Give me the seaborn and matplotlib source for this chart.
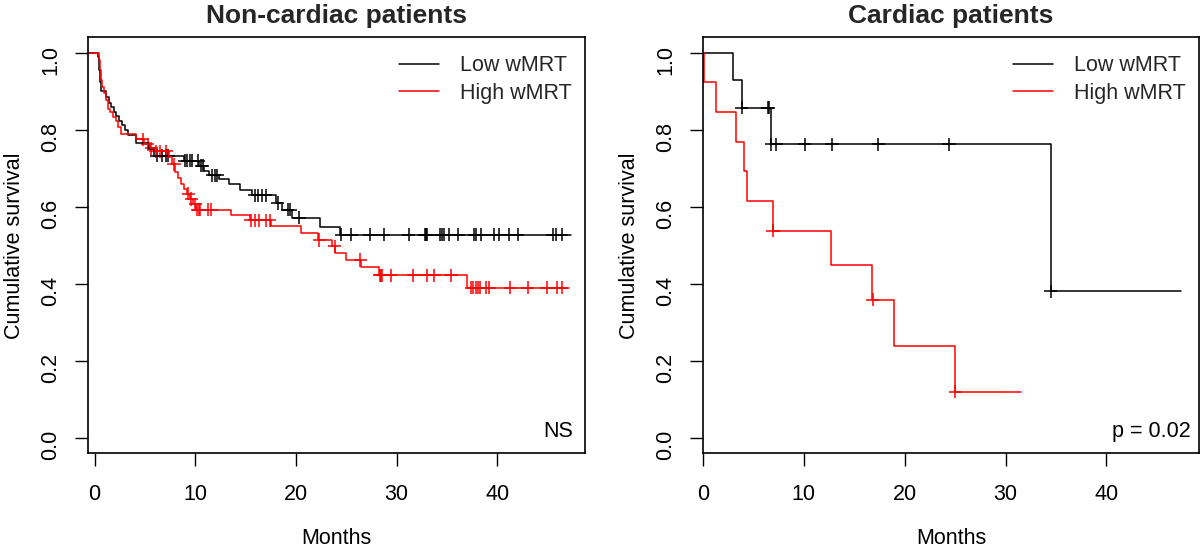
import numpy as np
import pandas as pd
import seaborn as sns
import matplotlib.pyplot as plt
from matplotlib.lines import Line2D

sns.set_style("white")
plt.rcParams["font.family"] = ["Liberation Sans", "DejaVu Sans"]

groups = ["Low wMRT", "High wMRT"]
colors = {"Low wMRT": "black", "High wMRT": "red"}

# Non-cardiac patients: step times (months) and survival after each step
nc_low_t = [-0.65, 0.30, 0.45, 0.55, 0.65, 1.15, 1.40, 1.65, 1.90, 2.15, 2.40, 2.70,
            3.00, 3.30, 4.10, 5.40, 5.90, 8.90, 10.40, 10.90, 11.40, 12.40, 13.40,
            14.40, 15.60, 18.00, 18.60, 19.60, 22.40, 24.40]
nc_low_s = [1.0, 0.990, 0.955, 0.925, 0.900, 0.885, 0.870, 0.858, 0.847, 0.835, 0.823, 0.812,
            0.800, 0.787, 0.766, 0.750, 0.733, 0.720, 0.707, 0.694, 0.682, 0.672, 0.660,
            0.644, 0.630, 0.610, 0.592, 0.572, 0.548, 0.527]
nc_low_end = 47.3
nc_low_cens = [6.2, 6.7, 7.1, 7.3, 8.95, 9.2, 9.45, 9.7, 10.3, 10.6, 10.75, 11.7, 11.95,
               12.2, 15.9, 16.2, 16.6, 17.0, 18.2, 19.2, 19.45, 20.3, 24.5, 25.5, 27.35,
               28.7, 31.2, 32.8, 32.9, 33.0, 34.3, 34.5, 34.7, 35.2, 36.1, 37.7, 37.9,
               38.4, 39.7, 40.2, 41.2, 42.0, 45.5, 45.8, 46.4]

nc_high_t = [-0.65, 0.40, 0.50, 0.60, 0.75, 0.95, 1.15, 1.35, 1.55, 1.85, 2.15, 2.35, 2.65,
             4.10, 4.95, 5.50, 6.00, 7.40, 7.70, 8.00, 8.30, 8.60, 8.90, 9.20, 9.50, 9.80,
             10.05, 13.60, 15.40, 17.50, 20.50, 22.20, 23.60, 23.90, 25.00, 26.50, 28.20,
             37.00]
nc_high_s = [1.0, 0.980, 0.955, 0.930, 0.910, 0.895, 0.878, 0.855, 0.845, 0.832, 0.822, 0.806,
             0.790, 0.775, 0.762, 0.752, 0.744, 0.728, 0.710, 0.690, 0.675, 0.660, 0.645,
             0.634, 0.620, 0.606, 0.592, 0.579, 0.565, 0.550, 0.532, 0.514, 0.497, 0.480,
             0.462, 0.443, 0.422, 0.390]
nc_high_end = 47.1
nc_high_cens = [4.8, 5.3, 5.65, 6.1, 6.5, 7.1, 7.9, 9.3, 9.6, 10.0, 10.2, 10.35, 10.5,
                11.3, 11.6, 15.5, 15.9, 16.3, 17.0, 17.4, 22.3, 23.85, 26.4, 28.35, 28.45,
                28.55, 29.4, 31.65, 33.0, 33.7, 35.4, 37.4, 37.55, 37.9, 38.1, 38.25, 38.9,
                39.2, 41.3, 43.0, 44.9, 45.9, 46.4]

# Cardiac patients
c_low_t = [0.0, 2.97, 3.86, 6.73, 34.5]
c_low_s = [1.0, 0.929, 0.857, 0.762, 0.381]
c_low_end = 47.4
c_low_cens = [3.86, 6.4, 6.5, 6.77, 7.27, 10.1, 12.8, 17.4, 24.4, 34.5]

c_high_t = [0.0, 0.1, 1.32, 3.3, 4.03, 4.36, 6.93, 12.7, 16.8, 18.9, 24.96]
c_high_s = [1.0, 0.923, 0.846, 0.769, 0.692, 0.615, 0.538, 0.449, 0.359, 0.239, 0.120]
c_high_end = 31.5
c_high_cens = [6.95, 16.85, 25.0]


def km_frame(t, s, end, group):
    return pd.DataFrame({"time": list(t) + [end], "surv": list(s) + [s[-1]], "group": group})


def cens_frame(t, s, cens, group):
    idx = np.searchsorted(t, cens, side="right") - 1
    return pd.DataFrame({"time": cens, "surv": np.asarray(s)[idx], "group": group})


panels = [
    ("Non-cardiac patients", "NS", (-0.65, 48.7), 0.977,
     [(nc_low_t, nc_low_s, nc_low_end, nc_low_cens), (nc_high_t, nc_high_s, nc_high_end, nc_high_cens)]),
    ("Cardiac patients", "p = 0.02", (0, 49.2), 0.983,
     [(c_low_t, c_low_s, c_low_end, c_low_cens), (c_high_t, c_high_s, c_high_end, c_high_cens)]),
]

fig = plt.figure(figsize=(12, 5.52), dpi=100)
rects = [[0.0733, 0.1788, 0.4142, 0.7536], [0.5858, 0.1788, 0.4135, 0.7536]]

for rect, (title, note, xlim, note_x, series) in zip(rects, panels):
    ax = fig.add_axes(rect)
    curves = pd.concat([km_frame(t, s, e, g) for g, (t, s, e, c) in zip(groups, series)])
    marks = pd.concat([cens_frame(t, s, c, g) for g, (t, s, e, c) in zip(groups, series)])
    sns.lineplot(data=curves, x="time", y="surv", hue="group", hue_order=groups,
                 palette=colors, drawstyle="steps-post", estimator=None, sort=False,
                 legend=False, linewidth=1.1, ax=ax)
    sns.scatterplot(data=marks, x="time", y="surv", hue="group", hue_order=groups,
                    palette=colors, marker="+", s=90, linewidth=1.1, legend=False, ax=ax)
    ax.set_xlim(*xlim)
    ax.set_ylim(-0.04, 1.04)
    ax.set_xticks([0, 10, 20, 30, 40])
    ax.set_yticks([0.0, 0.2, 0.4, 0.6, 0.8, 1.0])
    ax.set_yticklabels(["0.0", "0.2", "0.4", "0.6", "0.8", "1.0"])
    ax.tick_params(axis="both", direction="out", length=9.5, width=1.0, color="black",
                   labelsize=15.5, labelcolor="black", left=True, bottom=True)
    ax.tick_params(axis="y", labelrotation=90, pad=10)
    ax.tick_params(axis="x", pad=12.5)
    for sp in ax.spines.values():
        sp.set_color("black")
        sp.set_linewidth(1.2)
    ax.set_xlabel("Months", fontsize=15.5, color="black")
    ax.set_ylabel("Cumulative survival", fontsize=15.5, color="black")
    ax.xaxis.set_label_coords(0.5, -0.18)
    ax.yaxis.set_label_coords(-0.126, 0.5)
    ax.set_title(title, fontsize=19, fontweight="bold", pad=10)
    handles = [Line2D([], [], color=colors[g], linewidth=1.1) for g in groups]
    ax.legend(handles, groups, loc="upper left", bbox_to_anchor=(0.625, 0.957),
              frameon=False, fontsize=15.5, handlelength=1.86, handletextpad=0.98,
              labelspacing=0.3, borderpad=0, borderaxespad=0)
    ax.text(note_x, 0.04, note, transform=ax.transAxes, ha="right", va="baseline",
            fontsize=15.5, color="black")

fig.savefig("out.png", dpi=100)
